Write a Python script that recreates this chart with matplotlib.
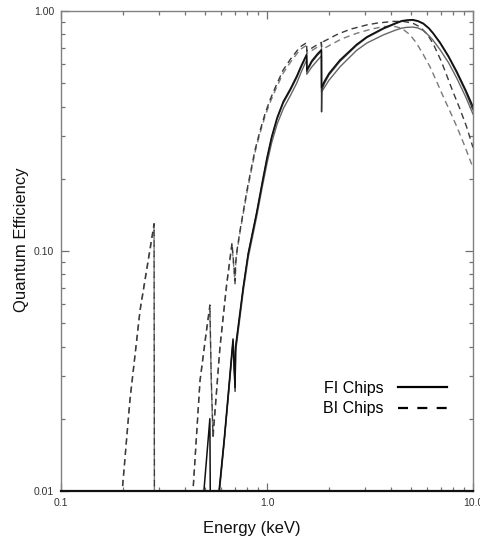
import matplotlib
matplotlib.use("Agg")
import matplotlib.pyplot as plt
from matplotlib.lines import Line2D
from matplotlib.ticker import FixedLocator, FixedFormatter, LogLocator, NullFormatter

plt.rcParams['font.family'] = ['Liberation Sans', 'DejaVu Sans']

# ---------------- data ----------------
# FI chips (solid)
E_fi1 = [0.45, 0.494, 0.528, 0.532, 0.56,
         0.585, 0.62, 0.65, 0.684, 0.700, 0.704, 0.767, 0.811, 0.891, 0.95, 1.0, 1.054, 1.12, 1.2,
         1.3, 1.393, 1.47, 1.558, 1.560, 1.65, 1.75, 1.838, 1.840, 1.9, 2.0, 2.26, 2.72, 3.05,
         3.67, 4.2, 4.5, 4.77, 5.1, 5.4, 5.73, 6.1, 6.4, 6.92, 7.6, 8.34, 9.2, 10.0]
QE_fi1 = [0.004, 0.010, 0.020, 0.006, 0.005,
          0.010, 0.0165, 0.026, 0.043, 0.027, 0.040, 0.071, 0.098, 0.145, 0.195, 0.245, 0.300, 0.360, 0.420,
          0.475, 0.535, 0.595, 0.660, 0.568, 0.620, 0.660, 0.690, 0.480, 0.510, 0.550, 0.625, 0.725, 0.780,
          0.848, 0.890, 0.910, 0.917, 0.920, 0.910, 0.889, 0.850, 0.810, 0.740, 0.650, 0.560, 0.470, 0.400]

E_fi2 = [0.50, 0.585, 0.62, 0.65, 0.684, 0.700, 0.704, 0.767, 0.811, 0.891, 0.95, 1.0, 1.054, 1.12, 1.2,
         1.3, 1.393, 1.47, 1.558, 1.560, 1.65, 1.75, 1.838, 1.840, 1.846, 1.9, 2.0, 2.26, 2.72, 3.05,
         3.67, 4.2, 4.5, 4.77, 5.1, 5.4, 5.73, 6.1, 6.4, 6.92, 7.6, 8.34, 9.2, 10.0]
QE_fi2 = [0.004, 0.0098, 0.0162, 0.0255, 0.042, 0.026, 0.039, 0.070, 0.097, 0.143, 0.192, 0.241, 0.296, 0.355, 0.414,
          0.468, 0.527, 0.587, 0.652, 0.560, 0.612, 0.652, 0.682, 0.380, 0.470, 0.500, 0.542, 0.617, 0.718, 0.774,
          0.842, 0.884, 0.905, 0.912, 0.915, 0.905, 0.884, 0.845, 0.805, 0.733, 0.643, 0.552, 0.462, 0.388]

E_fi3 = [0.50, 0.585, 0.62, 0.65, 0.684, 0.700, 0.704, 0.767, 0.811, 0.891, 0.95, 1.0, 1.054, 1.12, 1.2,
         1.3, 1.393, 1.47, 1.558, 1.560, 1.65, 1.75, 1.838, 1.840, 1.9, 2.0, 2.26, 2.72, 3.05,
         3.67, 4.2, 4.5, 4.77, 5.1, 5.4, 5.73, 6.1, 6.4, 6.92, 7.6, 8.34, 9.2, 10.0]
QE_fi3 = [0.004, 0.0095, 0.016, 0.025, 0.041, 0.028, 0.038, 0.068, 0.094, 0.139, 0.186, 0.232, 0.283, 0.338, 0.392,
          0.445, 0.500, 0.560, 0.625, 0.545, 0.585, 0.620, 0.650, 0.460, 0.480, 0.515, 0.585, 0.685, 0.735,
          0.795, 0.832, 0.848, 0.855, 0.857, 0.850, 0.830, 0.790, 0.755, 0.690, 0.610, 0.525, 0.440, 0.372]

# BI chips (dashed)
E_bi1 = [0.18, 0.198, 0.216, 0.242, 0.265, 0.283, 0.2845, 0.40, 0.437, 0.473, 0.505, 0.528, 0.536,
         0.547, 0.591, 0.637, 0.676, 0.700, 0.705, 0.714, 0.74, 0.80, 0.84, 0.875, 0.925, 0.98, 1.034,
         1.1, 1.197, 1.3, 1.445, 1.558, 1.560, 1.70, 1.838, 1.840, 1.875, 2.2, 2.53, 3.05, 3.41, 4.1,
         4.59, 5.1, 5.53, 6.0, 6.41, 7.0, 7.45, 8.0, 8.65, 9.3, 10.0]
QE_bi1 = [0.004, 0.010, 0.024, 0.057, 0.092, 0.130, 0.003, 0.004, 0.010, 0.029, 0.045, 0.0596, 0.030,
          0.017, 0.040, 0.073, 0.108, 0.075, 0.090, 0.100, 0.122, 0.180, 0.222, 0.264, 0.317, 0.375, 0.426,
          0.483, 0.567, 0.630, 0.708, 0.738, 0.680, 0.712, 0.740, 0.712, 0.745, 0.800, 0.839, 0.875, 0.890, 0.905,
          0.905, 0.890, 0.858, 0.800, 0.730, 0.620, 0.540, 0.460, 0.390, 0.330, 0.270]

E_bi2 = [0.18, 0.198, 0.216, 0.242, 0.265, 0.283, 0.2845, 0.40, 0.437, 0.473, 0.505, 0.528, 0.536,
         0.547, 0.591, 0.637, 0.676, 0.700, 0.705, 0.714, 0.74, 0.80, 0.84, 0.875, 0.925, 0.98, 1.034,
         1.1, 1.197, 1.3, 1.445, 1.558, 1.560, 1.70, 1.838, 1.840, 1.96, 2.3, 2.72, 3.2, 3.67, 4.1,
         4.5, 4.94, 5.3, 5.7, 6.18, 6.65, 7.17, 7.7, 8.34, 9.1, 10.0]
QE_bi2 = [0.0039, 0.0098, 0.0235, 0.056, 0.090, 0.127, 0.003, 0.004, 0.0098, 0.0285, 0.044, 0.058, 0.029,
          0.0165, 0.039, 0.0715, 0.106, 0.073, 0.088, 0.098, 0.120, 0.176, 0.217, 0.258, 0.310, 0.366, 0.415,
          0.470, 0.550, 0.612, 0.690, 0.720, 0.665, 0.695, 0.725, 0.690, 0.710, 0.765, 0.807, 0.840, 0.861, 0.865,
          0.848, 0.797, 0.738, 0.665, 0.586, 0.510, 0.440, 0.385, 0.330, 0.275, 0.222]

xticks = [0.1, 1.0, 10.0]
xtick_labels = ['0.1', '1.0', '10.0']
yticks = [0.01, 0.1, 1.0]
ytick_labels = ['0.01', '0.10', '1.00']

# ---------------- figure ----------------
W, H = 481, 537
fig = plt.figure(figsize=(W / 100, H / 100), dpi=100)
L, R, T, B = 61, 473, 11, 491
ax = fig.add_axes([L / W, 1 - B / H, (R - L) / W, (B - T) / H])
ax.set_xscale('log')
ax.set_yscale('log')
ax.set_xlim(0.1, 10.0)
ax.set_ylim(0.01, 1.0)

dash = (4.5, 3.0)
ax.plot(E_bi2, QE_bi2, color='#7a7a7a', lw=1.0, dashes=dash)
ax.plot(E_bi1, QE_bi1, color='#3a3a3a', lw=1.0, dashes=dash)
ax.plot(E_fi3, QE_fi3, color='#666666', lw=1.0)
ax.plot(E_fi2, QE_fi2, color='#333333', lw=1.0)
ax.plot(E_fi1, QE_fi1, color='#111111', lw=1.1)

# axes styling
for s in ['left', 'top', 'right']:
    ax.spines[s].set_color('#808080')
    ax.spines[s].set_linewidth(1.0)
ax.spines['bottom'].set_color('#111111')
ax.spines['bottom'].set_linewidth(1.6)

ax.xaxis.set_major_locator(FixedLocator(xticks))
ax.xaxis.set_major_formatter(FixedFormatter(xtick_labels))
ax.yaxis.set_major_locator(FixedLocator(yticks))
ax.yaxis.set_major_formatter(FixedFormatter(ytick_labels))
ax.xaxis.set_minor_locator(LogLocator(base=10, subs=range(2, 10)))
ax.yaxis.set_minor_locator(LogLocator(base=10, subs=range(2, 10)))
ax.xaxis.set_minor_formatter(NullFormatter())
ax.yaxis.set_minor_formatter(NullFormatter())
ax.tick_params(which='both', direction='in', top=True, right=True, color='#707070',
               labelsize=7.5, labelcolor='#333333', width=0.9)
ax.tick_params(which='major', length=6)
ax.tick_params(which='minor', length=3.2)
ax.tick_params(axis='x', pad=5)
ax.tick_params(axis='y', pad=5)

fig.text(252 / W, 1 - 528 / H, 'Energy (keV)', ha='center', va='center', fontsize=12, color='#111111')
fig.text(22 / W, 1 - 240 / H, 'Quantum Efficiency', ha='center', va='center', rotation=90,
         fontsize=12, color='#111111')

handles = [Line2D([], [], color='black', lw=1.6),
           Line2D([], [], color='black', lw=1.6, dashes=(4.5, 4.2))]
leg = ax.legend(handles, ['FI Chips', 'BI Chips'], loc='upper left',
                bbox_to_anchor=((323 - L) / (R - L), (B - 381) / (B - T)),
                frameon=False, markerfirst=False, fontsize=11.5, handlelength=3.1,
                handletextpad=0.9, labelspacing=0.32, borderpad=0, borderaxespad=0)

fig.savefig('out.png', dpi=100)
